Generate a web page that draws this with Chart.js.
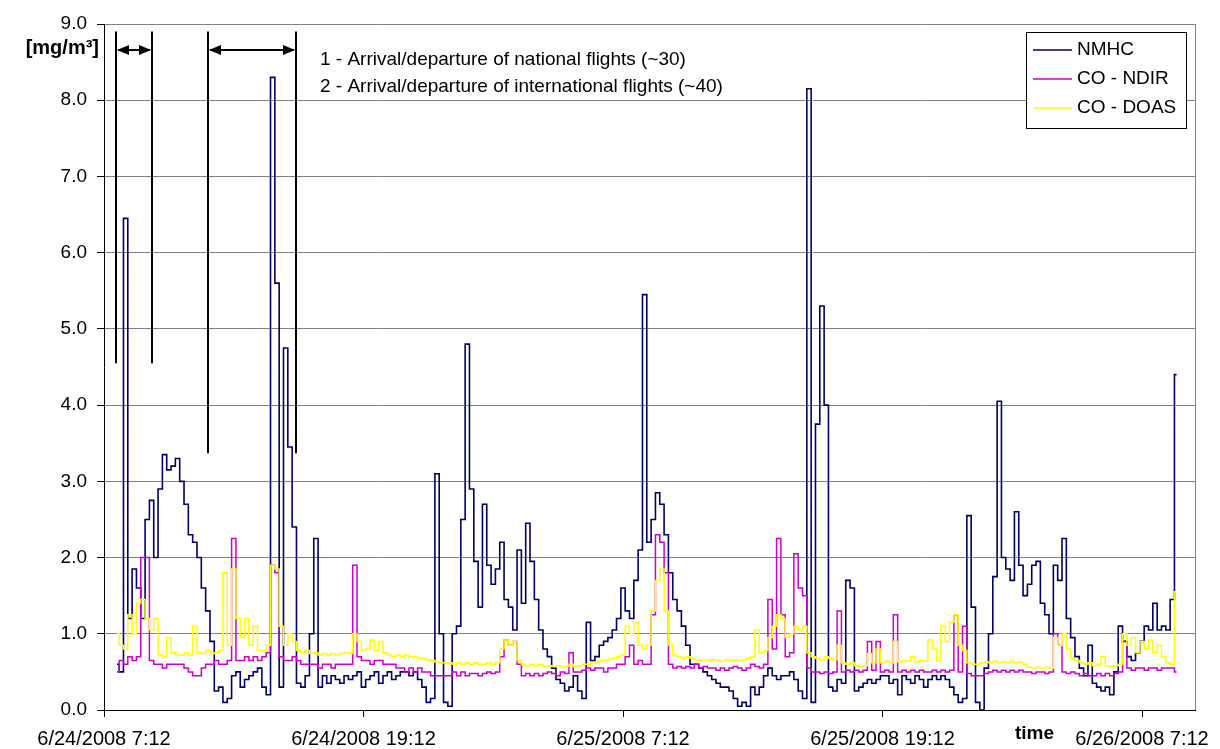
<!DOCTYPE html>
<html>
<head>
<meta charset="utf-8">
<script src="https://cdn.jsdelivr.net/npm/chart.js@4.4.1/dist/chart.umd.min.js"></script>
<style>
    html, body { margin: 0; padding: 0; background: #fff; }
</style>
</head>
<body>
<canvas id="myChart" width="1220" height="749"></canvas>
<script>
// hours after 6/24/2008 7:12, one sample every 0.2 h
const sampleStart = 0.6;
const sampleStep = 0.2;

const tickHours = [0, 12, 24, 36, 48];
const tickLabels = ['6/24/2008 7:12', '6/24/2008 19:12', '6/25/2008 7:12', '6/25/2008 19:12', '6/26/2008 7:12'];

const seriesNames = ['NMHC', 'CO - NDIR', 'CO - DOAS'];

const nmhc = [
    0.6, 0.5, 6.45, 1.2, 1.85, 1.6, 1.2, 2.5, 2.75, 2.0,
    2.9, 3.35, 3.15, 3.2, 3.3, 3.0, 2.7, 2.3, 2.2, 2.0,
    1.6, 1.3, 0.9, 0.25, 0.3, 0.1, 0.15, 0.45, 0.5, 0.3,
    0.4, 0.45, 0.5, 0.55, 0.3, 0.2, 8.3, 5.6, 0.3, 4.75,
    3.45, 2.4, 0.35, 0.3, 0.45, 1.0, 2.25, 0.3, 0.45, 0.35,
    0.45, 0.4, 0.35, 0.45, 0.4, 0.45, 0.5, 0.3, 0.4, 0.45,
    0.5, 0.35, 0.45, 0.5, 0.4, 0.45, 0.5, 0.5, 0.45, 0.5,
    0.4, 0.3, 0.1, 0.15, 3.1, 1.0, 0.1, 0.05, 1.0, 1.1,
    2.5, 4.8, 2.9, 1.95, 1.35, 2.7, 1.9, 1.65, 1.85, 2.2,
    1.45, 1.35, 1.05, 2.1, 1.4, 2.45, 1.95, 1.45, 1.05, 0.8,
    0.7, 0.55, 0.4, 0.35, 0.25, 0.3, 0.45, 0.25, 0.15, 1.15,
    0.65, 0.7, 0.85, 0.9, 0.95, 1.05, 1.2, 1.6, 1.3, 1.2,
    1.7, 2.1, 5.45, 2.2, 2.5, 2.85, 2.7, 2.3, 1.8, 1.45,
    1.3, 1.1, 0.85, 0.6, 0.6, 0.55, 0.5, 0.45, 0.4, 0.35,
    0.3, 0.3, 0.25, 0.15, 0.05, 0.1, 0.05, 0.3, 0.2, 0.3,
    0.45, 0.55, 0.45, 0.4, 0.45, 0.45, 0.5, 0.4, 0.25, 0.15,
    8.15, 0.1, 3.75, 5.3, 4.0, 0.3, 0.25, 0.4, 0.35, 1.7,
    1.6, 0.25, 0.3, 0.35, 0.4, 0.35, 0.4, 0.45, 0.45, 0.35,
    0.4, 0.2, 0.45, 0.4, 0.35, 0.45, 0.4, 0.3, 0.4, 0.45,
    0.4, 0.45, 0.4, 0.3, 0.2, 0.1, 0.15, 2.55, 1.35, 0.1,
    0.0, 0.55, 1.0, 1.75, 4.05, 2.0, 1.85, 1.7, 2.6, 1.9,
    1.5, 1.65, 1.9, 1.95, 1.4, 1.25, 1.0, 1.9, 1.7, 2.25,
    1.2, 0.95, 0.7, 0.55, 0.45, 0.85, 0.35, 0.3, 0.25, 0.3,
    0.2, 0.5, 1.1, 0.9, 0.7, 0.65, 0.75, 0.9, 1.1, 1.05,
    1.4, 1.05, 1.1, 1.05, 1.45, 4.4
];

const coNdir = [
    0.5, 0.65, 0.6, 0.7, 0.65, 0.7, 2.0, 2.0, 0.65, 0.6,
    0.6, 0.55, 0.6, 0.6, 0.6, 0.6, 0.55, 0.5, 0.45, 0.45,
    0.55, 0.6, 0.6, 0.65, 0.6, 0.6, 0.65, 2.25, 0.65, 0.65,
    0.7, 0.65, 0.7, 0.65, 0.7, 0.75, 1.9, 1.8, 0.7, 0.65,
    0.65, 0.7, 0.65, 0.6, 0.6, 0.6, 0.6, 0.55, 0.6, 0.6,
    0.55, 0.6, 0.6, 0.6, 0.6, 1.9, 0.7, 0.65, 0.65, 0.6,
    0.65, 0.65, 0.6, 0.6, 0.6, 0.55, 0.55, 0.5, 0.55, 0.5,
    0.55, 0.5, 0.5, 0.45, 0.45, 0.45, 0.45, 0.45, 0.5, 0.45,
    0.5, 0.45, 0.48, 0.48, 0.45, 0.48, 0.5, 0.48, 0.5, 0.7,
    0.92, 0.85, 0.9, 0.6, 0.45, 0.48, 0.45, 0.48, 0.45, 0.48,
    0.5, 0.48, 0.45, 0.5, 0.48, 0.75, 0.5, 0.5, 0.52, 0.55,
    0.52, 0.55, 0.55, 0.5, 0.55, 0.55, 0.6, 0.6, 0.7, 0.85,
    0.6, 0.65, 0.6, 0.6, 1.25, 2.3, 2.2, 1.8, 0.6, 0.55,
    0.57, 0.55, 0.57, 0.55, 0.6, 0.55, 0.57, 0.55, 0.55, 0.52,
    0.55, 0.52, 0.55, 0.57, 0.55, 0.52, 0.55, 0.6, 0.57, 0.55,
    0.6, 1.45, 0.8, 2.25, 1.25, 0.7, 0.75, 2.05, 1.6, 1.5,
    0.55, 0.5, 0.5, 0.48, 0.5, 0.48, 0.5, 1.3, 0.5, 0.52,
    0.5, 0.52, 0.5, 0.52, 0.9, 0.52, 0.9, 0.5, 0.52, 0.5,
    1.25, 0.5, 0.52, 0.5, 0.52, 0.5, 0.52, 0.5, 0.5, 0.52,
    0.5, 0.52, 0.5, 0.52, 1.25, 0.5, 1.1, 0.48, 0.45, 0.45,
    0.45, 0.48, 0.5, 0.52, 0.5, 0.52, 0.5, 0.52, 0.5, 0.52,
    0.5, 0.5, 0.48, 0.5, 0.5, 0.48, 0.5, 1.0, 0.85, 0.5,
    0.48, 0.5, 0.48, 0.45, 0.48, 0.45, 0.45, 0.48, 0.45, 0.48,
    0.45, 0.48, 0.5, 0.9, 0.55, 0.52, 0.55, 0.55, 0.52, 0.55,
    0.55, 0.52, 0.55, 0.55, 0.55, 0.5
];

const coDoas = [
    1.0, 0.85, 0.8, 1.25, 1.0, 1.4, 1.45, 1.2, 1.05, 1.2,
    0.72, 0.7, 0.95, 0.75, 0.72, 0.72, 0.75, 0.72, 1.1, 0.75,
    0.74, 0.78, 0.74, 0.75, 0.78, 1.8, 0.85, 1.85, 1.2, 0.95,
    1.2, 0.85, 1.1, 0.78, 0.78, 0.85, 1.9, 1.85, 1.1, 0.85,
    1.0, 0.9, 0.78, 0.75, 0.78, 0.74, 0.75, 0.72, 0.74, 0.72,
    0.74, 0.72, 0.74, 0.75, 0.74, 1.0, 0.9, 0.78, 0.8, 0.92,
    0.78, 0.9, 0.75, 0.72, 0.7, 0.72, 0.7, 0.72, 0.7, 0.7,
    0.68, 0.68, 0.66, 0.65, 0.63, 0.62, 0.62, 0.62, 0.6, 0.62,
    0.6, 0.62, 0.6, 0.62, 0.6, 0.6, 0.62, 0.6, 0.62, 0.8,
    0.92, 0.85, 0.9, 0.65, 0.6, 0.58, 0.6, 0.58, 0.6, 0.57,
    0.58, 0.57, 0.58, 0.57, 0.57, 0.6, 0.57, 0.58, 0.6, 0.6,
    0.62, 0.62, 0.65, 0.65, 0.67, 0.68, 0.7, 0.72, 1.1, 1.0,
    1.15, 0.85, 0.8, 0.85, 1.3, 1.7, 1.85, 1.3, 0.85, 0.72,
    0.7, 0.68, 0.7, 0.68, 0.66, 0.65, 0.66, 0.65, 0.66, 0.65,
    0.64, 0.66, 0.65, 0.66, 0.65, 0.66, 0.68, 0.7, 1.05, 0.75,
    0.78, 0.95, 1.1, 1.25, 1.2, 0.95, 1.0, 1.1, 1.05, 1.1,
    0.75, 0.7, 0.68, 0.66, 0.7, 0.68, 0.66, 0.85, 0.62, 0.6,
    0.62, 0.58, 0.57, 0.58, 0.74, 0.62, 0.8, 0.62, 0.64, 0.62,
    0.9, 0.63, 0.65, 0.64, 0.7, 0.63, 0.65, 0.64, 0.92, 0.8,
    0.64, 1.1, 0.9, 1.15, 1.25, 0.85, 0.78, 0.62, 0.6, 0.6,
    0.62, 0.63, 0.62, 0.64, 0.62, 0.63, 0.62, 0.64, 0.62, 0.63,
    0.6, 0.56, 0.55, 0.56, 0.55, 0.56, 0.55, 0.95, 0.85, 1.0,
    0.8, 0.68, 0.65, 0.62, 0.6, 0.62, 0.58, 0.6, 0.7, 0.58,
    0.57, 0.58, 0.6, 1.0, 0.85, 0.95, 0.75, 0.9, 0.8, 0.92,
    0.75, 0.85, 0.7, 0.62, 0.6, 1.55
];

// flight windows marked on the chart (hours, and the low end of the bars in mg/m3)
const flightWindows = [
    { from: 0.54, to: 2.21, low: 4.55 },
    { from: 4.82, to: 8.88, low: 3.37 }
];
const notes = [
    '1 - Arrival/departure of national flights (~30)',
    '2 - Arrival/departure of international flights (~40)'
];

const FONT = "'Liberation Sans', Arial, sans-serif";
const colors = ['#000066', '#cc00cc', '#ffff00'];

function toPoints(values) {
    return values.map((v, i) => ({ x: sampleStart + sampleStep * i, y: v }));
}

const extras = {
    id: 'extras',
    beforeDatasetsDraw(chart) {
        const { ctx, chartArea } = chart;
        // plot area frame (gray, like the gridlines)
        ctx.save();
        ctx.strokeStyle = '#808080';
        ctx.lineWidth = 1;
        ctx.beginPath();
        ctx.moveTo(chartArea.right + 0.5, chartArea.top);
        ctx.lineTo(chartArea.right + 0.5, chartArea.bottom);
        ctx.stroke();
        ctx.restore();
    },
    afterDraw(chart) {
        const { ctx, chartArea } = chart;
        const xs = chart.scales.x, ys = chart.scales.y;
        ctx.save();

        // y unit label
        ctx.fillStyle = '#000';
        ctx.font = 'bold 20px ' + FONT;
        ctx.textAlign = 'right';
        ctx.textBaseline = 'middle';
        ctx.fillText('[mg/m\u00b3]', chartArea.left - 5, 48);

        // "time" next to the last tick label
        ctx.font = 'bold 19px ' + FONT;
        ctx.textAlign = 'left';
        ctx.fillText('time', 1015, 734);

        // flight window bars and arrows
        ctx.strokeStyle = '#000';
        ctx.fillStyle = '#000';
        ctx.lineWidth = 2;
        const top = ys.getPixelForValue(8.9);
        const arrowY = ys.getPixelForValue(8.66);
        flightWindows.forEach(w => {
            const x1 = Math.round(xs.getPixelForValue(w.from));
            const x2 = Math.round(xs.getPixelForValue(w.to));
            const yb = ys.getPixelForValue(w.low);
            ctx.beginPath();
            ctx.moveTo(x1, top); ctx.lineTo(x1, yb);
            ctx.moveTo(x2, top); ctx.lineTo(x2, yb);
            ctx.moveTo(x1 + 2, arrowY); ctx.lineTo(x2 - 2, arrowY);
            ctx.stroke();
            ctx.beginPath();
            ctx.moveTo(x1 + 1, arrowY); ctx.lineTo(x1 + 13, arrowY - 5); ctx.lineTo(x1 + 13, arrowY + 5); ctx.closePath();
            ctx.moveTo(x2 - 1, arrowY); ctx.lineTo(x2 - 13, arrowY - 5); ctx.lineTo(x2 - 13, arrowY + 5); ctx.closePath();
            ctx.fill();
        });

        ctx.font = '19px ' + FONT;
        ctx.textAlign = 'left';
        ctx.textBaseline = 'middle';
        notes.forEach((t, i) => ctx.fillText(t, 320, 60 + i * 27));

        // legend box in the upper right of the plot
        const bx = chartArea.right - 169, by = chartArea.top + 8, bw = 160, bh = 96;
        ctx.fillStyle = '#fff';
        ctx.fillRect(bx, by, bw, bh);
        ctx.strokeStyle = '#000';
        ctx.lineWidth = 1;
        ctx.strokeRect(bx + 0.5, by + 0.5, bw, bh);
        ctx.font = '19px ' + FONT;
        chart.data.datasets.forEach((ds, i) => {
            const y = by + 18 + i * 29;
            ctx.strokeStyle = ds.borderColor;
            ctx.lineWidth = 1.5;
            ctx.beginPath();
            ctx.moveTo(bx + 7, y); ctx.lineTo(bx + 46, y);
            ctx.stroke();
            ctx.fillStyle = '#000';
            ctx.fillText(ds.label, bx + 51, y);
        });
        ctx.restore();
    }
};

const ctx = document.getElementById('myChart').getContext('2d');
const myChart = new Chart(ctx, {
    type: 'line',
    data: {
        datasets: [
            { label: seriesNames[0], data: toPoints(nmhc), borderColor: colors[0], borderWidth: 1.6, order: 3 },
            { label: seriesNames[1], data: toPoints(coNdir), borderColor: colors[1], order: 2 },
            { label: seriesNames[2], data: toPoints(coDoas), borderColor: colors[2], order: 1 }
        ]
    },
    options: {
        responsive: false,
        animation: false,
        parsing: false,
        datasets: {
            line: { borderWidth: 1.5, pointRadius: 0, tension: 0, stepped: 'middle', fill: false }
        },
        layout: { padding: { top: 24, right: 25, left: 0, bottom: 0 } },
        plugins: {
            legend: { display: false },
            tooltip: { enabled: false }
        },
        scales: {
            x: {
                type: 'linear',
                min: 0,
                max: 50.45,
                afterBuildTicks: axis => { axis.ticks = tickHours.map(v => ({ value: v })); },
                afterFit: axis => { axis.height = 39; },
                grid: { drawOnChartArea: false, drawTicks: true, tickLength: 7, tickColor: '#000' },
                border: { color: '#000', width: 1 },
                ticks: {
                    autoSkip: false,
                    maxRotation: 0,
                    padding: 10,
                    color: '#000',
                    font: { size: 20, family: FONT },
                    callback: v => tickLabels[tickHours.indexOf(v)]
                }
            },
            y: {
                min: 0,
                max: 9,
                afterFit: axis => { axis.width = 104; },
                grid: { color: '#808080', lineWidth: 1, tickLength: 7, tickColor: '#000' },
                border: { color: '#000', width: 1 },
                ticks: {
                    stepSize: 1,
                    padding: 10,
                    color: '#000',
                    font: { size: 19, family: FONT },
                    callback: v => v.toFixed(1)
                }
            }
        }
    },
    plugins: [extras]
});
</script>
</body>
</html>
